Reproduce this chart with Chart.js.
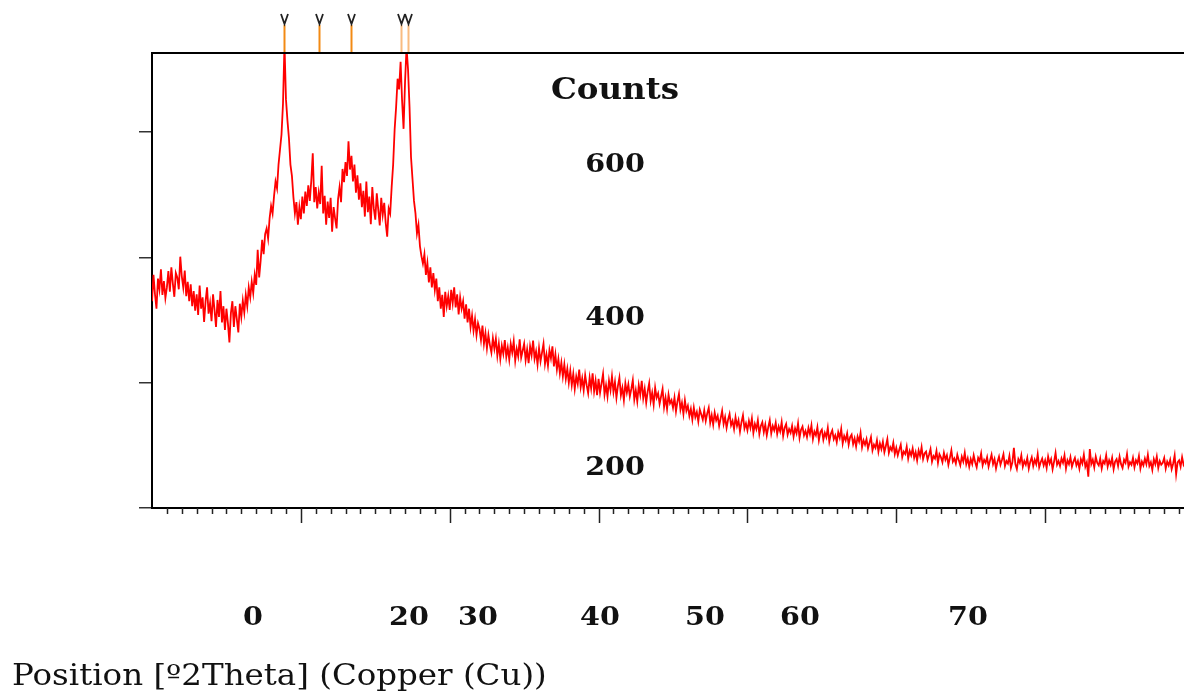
<!DOCTYPE html>
<html lang="en">
<head>
  <meta charset="utf-8">
  <title>XRD pattern | Chart.js</title>
  <script src="https://cdn.jsdelivr.net/npm/chart.js@4.4.1/dist/chart.umd.min.js"></script>
  <style>
    html, body { margin: 0; padding: 0; background: #fff; overflow: hidden; }
    canvas { display: block; }
  </style>
</head>
<body>
  <canvas id="chart-0" width="1200" height="692"></canvas>

  <script>

    // scan: 10 to 80 deg 2theta, step 0.1
    let startAngle = 10;
    let stepAngle = 0.1;

    let counts10s = [
      330,372,341,318,366,349,381,340,362,335,
      352,378,345,384,358,337,375,368,349,401,
      370,352,379,338,361,330,357,322,346,315,
      341,308,355,318,336,297,330,352,310,327,
      298,341,316,289,332,305,346,296,322,284,
      318,295,264,311,330,289,322,301,280,326,
      305,331,312,340,322,352,336,361,343,372,
      356,412,368,395,428,405,437,446,430,462,
      482,470,498,521,510,548,572,596,645,740,
      652,618,590,548,530,496,470,488,452,480
    ];
    let counts20s = [
      461,497,470,505,482,515,490,522,566,488,
      512,478,503,485,546,470,498,452,489,463,
      495,441,480,462,446,493,512,488,541,520,
      552,530,585,540,562,521,548,503,531,492,
      518,480,506,465,521,472,497,453,512,478,
      460,502,476,451,495,468,487,455,433,478,
      470,512,548,604,640,685,668,712,650,605,
      680,735,700,640,560,525,490,470,438,452,
      418,402,390,405,372,391,360,384,352,375,
      348,366,330,352,318,340,305,345,322,338
    ];
    let counts30s = [
      316,348,327,352,320,341,309,336,318,330,
      302,325,296,318,289,307,283,301,276,295,
      286,268,291,262,279,255,276,260,248,271,
      254,270,243,262,238,259,246,268,241,256,
      237,262,248,266,235,254,242,269,240,251,
      262,236,253,231,258,244,267,238,250,229,
      255,234,248,262,230,245,227,252,239,258,
      226,245,221,238,215,232,210,229,206,222,
      200,219,196,214,190,210,198,221,193,207,
      188,212,196,183,208,191,215,186,203,180
    ];
    let counts40s = [
      206,184,199,214,181,196,178,203,188,210,
      185,201,176,195,208,180,192,172,199,184,
      197,178,190,204,173,188,170,196,181,203,
      175,190,168,186,199,171,184,165,192,176,
      183,166,178,190,161,176,158,181,167,172,
      160,176,154,170,182,157,168,150,172,155,
      163,147,158,141,160,145,153,138,157,149,
      141,156,139,151,160,136,148,133,152,140,
      147,131,143,155,134,145,128,141,150,132,
      139,126,145,131,140,122,137,148,127,135
    ];
    let counts50s = [
      124,139,128,143,120,134,126,140,118,131,
      137,121,133,116,129,140,119,131,124,136,
      118,130,122,137,115,128,134,117,126,120,
      131,114,127,119,135,112,125,130,116,123,
      113,128,118,132,110,122,116,129,108,121,
      125,109,120,113,128,106,118,124,110,116,
      105,121,112,126,103,115,108,119,101,113,
      117,102,111,98,114,106,120,97,108,101,
      110,95,104,113,92,101,96,108,90,103,
      94,106,89,99,110,88,97,92,104,86
    ];
    let counts60s = [
      96,84,93,101,81,90,86,98,79,91,
      84,95,80,89,76,92,83,97,78,87,
      90,77,85,94,74,83,79,91,72,86,
      81,73,88,77,84,69,80,92,74,79,
      71,85,76,68,82,74,88,70,79,66,
      78,70,84,73,65,80,75,87,68,77,
      72,81,66,76,85,70,78,63,74,82,
      69,77,86,67,75,71,83,64,73,96,
      70,62,78,72,84,66,75,69,80,63,
      74,81,67,77,70,86,65,73,79,68
    ];
    let counts70s = [
      76,64,82,71,78,62,74,88,69,75,
      67,79,72,84,63,76,70,81,66,74,
      80,68,75,63,78,71,85,66,73,50,
      94,70,77,65,82,72,68,79,63,75,
      71,84,66,76,69,80,62,74,78,67,
      82,70,64,77,72,86,66,73,69,80,
      65,76,71,83,63,74,68,79,70,85,
      67,73,61,78,70,82,64,75,69,72,
      80,63,74,68,77,62,71,84,54,73,
      76,66,81,69,74,63,78,70,75,68,
      72
    ];

    // reference peak positions (deg 2theta), last two drawn faded
    let peakPositions = [18.84, 21.21, 23.35, 26.72, 27.22];
    let peakFaded = [false, false, false, true, true];

    // tick labels as printed in the figure
    let xTickLabels = ['0', '20', '30', '40', '50', '60', '70'];
    let yTickLabels = ['600', '400', '200'];
    let yTitle = 'Counts';
    let xTitle = 'Position [\u00BA2Theta] (Copper (Cu))';

    let counts = [].concat(counts10s, counts20s, counts30s, counts40s,
                           counts50s, counts60s, counts70s);
    let points = counts.map((c, i) => ({
      x: +(startAngle + i * stepAngle).toFixed(1),
      y: c
    }));

    // where the labels sit in the printed figure
    let labelSpots = {
      xCenters: [253, 409, 478, 600, 705, 800, 968],
      xRowY: 618,
      yCenterX: 615,
      yCenters: [165, 318, 468],
      titleY: 91,
      xTitleLeft: 12,
      xTitleY: 677
    };

    function drawStretched(ctx, text, x, y, font, align, sx) {
      ctx.save();
      ctx.font = font;
      ctx.textBaseline = 'middle';
      ctx.textAlign = 'left';
      let w = ctx.measureText(text).width * sx;
      let left = align === 'center' ? x - w / 2 : x;
      ctx.translate(left, y);
      ctx.scale(sx, 1);
      ctx.fillText(text, 0, 0);
      ctx.restore();
    }

    let xrdDecor = {
      id: 'xrdDecor',
      afterDraw(chart) {
        let ctx = chart.ctx;
        let area = chart.chartArea;
        let xs = chart.scales.x;

        ctx.save();

        // top frame line
        ctx.strokeStyle = '#000';
        ctx.lineWidth = 2;
        ctx.beginPath();
        ctx.moveTo(area.left - 1, area.top);
        ctx.lineTo(area.right, area.top);
        ctx.stroke();

        // x tick marks: minor every degree, long every ten
        ctx.strokeStyle = '#222';
        ctx.lineWidth = 1.5;
        xs.ticks.forEach(t => {
          if (t.value <= xs.min) return;
          let px = Math.round(xs.getPixelForValue(t.value)) + 0.5;
          let len = t.value % 10 === 0 ? 15 : 6;
          ctx.beginPath();
          ctx.moveTo(px, area.bottom);
          ctx.lineTo(px, area.bottom + len);
          ctx.stroke();
        });

        // peak markers above the frame
        peakPositions.forEach((p, i) => {
          let px = Math.round(xs.getPixelForValue(p)) + 0.5;
          ctx.strokeStyle = peakFaded[i] ? 'rgba(246,150,60,0.65)' : '#f28a14';
          ctx.lineWidth = 2;
          ctx.beginPath();
          ctx.moveTo(px, area.top - 1);
          ctx.lineTo(px, area.top - 28);
          ctx.stroke();
          ctx.strokeStyle = '#222';
          ctx.lineWidth = 1.8;
          ctx.beginPath();
          ctx.moveTo(px - 3.5, area.top - 39);
          ctx.lineTo(px, area.top - 29);
          ctx.lineTo(px + 3.5, area.top - 39);
          ctx.stroke();
        });

        // texts
        ctx.fillStyle = '#111';
        let boldFont = 'bold 26px "DejaVu Serif"';
        drawStretched(ctx, yTitle, labelSpots.yCenterX, labelSpots.titleY,
                      'bold 29px "DejaVu Serif"', 'center', 1.12);
        yTickLabels.forEach((s, i) => {
          drawStretched(ctx, s, labelSpots.yCenterX, labelSpots.yCenters[i], boldFont, 'center', 1.1);
        });
        xTickLabels.forEach((s, i) => {
          drawStretched(ctx, s, labelSpots.xCenters[i], labelSpots.xRowY, boldFont, 'center', 1.1);
        });
        drawStretched(ctx, xTitle, labelSpots.xTitleLeft, labelSpots.xTitleY,
                      '29px "DejaVu Serif"', 'left', 1.12);

        ctx.restore();
      }
    };

    let chart = new Chart('chart-0', {
      type: 'line',
      data: {
        datasets: [{
          label: 'Counts',
          data: points,
          borderColor: '#ff0000',
          borderWidth: 1.8,
          pointRadius: 0,
          tension: 0,
          fill: false
        }]
      },
      options: {
        responsive: false,
        animation: false,
        events: [],
        layout: {
          padding: { top: 53, right: 6, left: 0, bottom: 0 }
        },
        plugins: {
          legend: { display: false },
          tooltip: { enabled: false },
          title: { display: false }
        },
        scales: {
          x: {
            type: 'linear',
            min: 10,
            max: 80,
            ticks: { display: false, stepSize: 1 },
            grid: { display: false },
            border: { display: true, color: '#000', width: 2 },
            afterFit: s => { s.height = 184; }
          },
          y: {
            min: 0,
            max: 726,
            ticks: { display: false, stepSize: 200 },
            afterBuildTicks: s => { s.ticks = s.ticks.filter(t => t.value % 200 === 0); },
            grid: {
              drawOnChartArea: false,
              tickLength: 13,
              color: '#333',
              lineWidth: 1.5
            },
            border: { display: true, color: '#000', width: 2 },
            afterFit: s => { s.width = 152; }
          }
        }
      },
      plugins: [xrdDecor]
    });

  </script>
</body>
</html>
